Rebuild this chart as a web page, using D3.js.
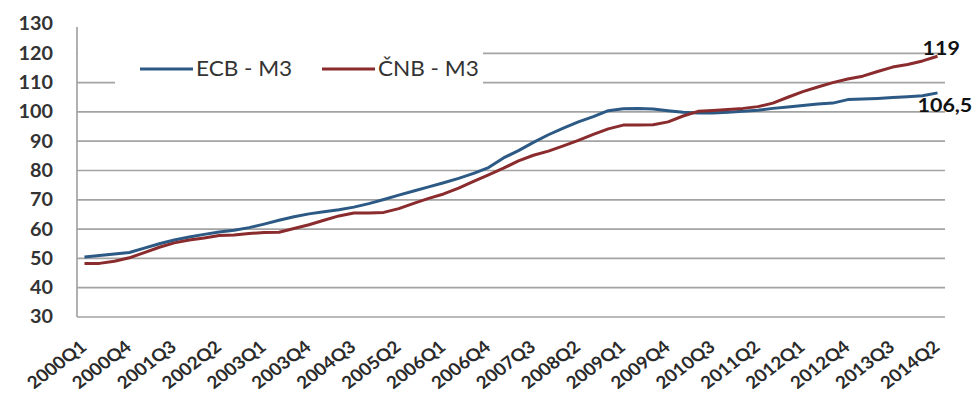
<!DOCTYPE html>
<html>
<head>
<meta charset="utf-8">
<script src="https://cdn.jsdelivr.net/npm/d3@7"></script>
<style>
  html, body { margin: 0; padding: 0; background: #fff; }
  svg { display: block; }
  text { font-family: Lato, "Open Sans", sans-serif; }
</style>
</head>
<body>
<svg id="chart" width="979" height="398"></svg>
<script>
// Quarterly index values, 2000Q1 .. 2014Q2
const quarters = [];
for (let yr = 2000; yr <= 2014; yr++) {
  for (let q = 1; q <= 4; q++) {
    if (yr === 2014 && q > 2) break;
    quarters.push(yr + "Q" + q);
  }
}

const ecbM3 = [
  50.5, 51.0, 51.5, 52.0, 53.5, 55.0, 56.3, 57.3, 58.2, 59.0,
  59.6, 60.5, 61.7, 63.0, 64.2, 65.2, 65.9, 66.6, 67.5, 68.7,
  70.1, 71.6, 73.0, 74.4, 75.8, 77.3, 79.0, 81.0, 84.3, 86.8,
  89.6, 92.2, 94.5, 96.6, 98.4, 100.4, 101.1, 101.2, 101.0, 100.4,
  99.9, 99.6, 99.6, 99.9, 100.2, 100.6, 101.2, 101.7, 102.2, 102.7,
  103.0, 104.2, 104.4, 104.6, 104.9, 105.2, 105.5, 106.5
];

const cnbM3 = [
  48.3, 48.3, 49.0, 50.2, 52.0, 53.8, 55.3, 56.3, 57.0, 57.8,
  58.0, 58.5, 58.8, 58.9, 60.2, 61.5, 63.0, 64.5, 65.5, 65.5,
  65.7, 67.0, 68.8, 70.5, 72.0, 74.0, 76.3, 78.5, 80.8, 83.3,
  85.2, 86.6, 88.4, 90.3, 92.3, 94.2, 95.5, 95.5, 95.6, 96.6,
  98.6, 100.2, 100.5, 100.8, 101.2, 101.8, 103.0, 105.0, 106.9, 108.5,
  110.0, 111.2, 112.2, 113.8, 115.3, 116.2, 117.4, 119.0
];

const yTicks = [30, 40, 50, 60, 70, 80, 90, 100, 110, 120, 130];
const seriesNames = ["ECB - M3", "ČNB - M3"];
const seriesColors = ["#2c5a85", "#8a2b2d"];
const endLabels = ["106,5", "119"];

const svg = d3.select("#chart");
const plotLeft = 77, plotRight = 945, plotTop = 24, plotBottom = 317;
const stretch = 1.1;   // horizontal text scale of this chart

const x = d3.scalePoint()
  .domain(d3.range(quarters.length))
  .range([plotLeft, plotRight])
  .padding(0.5);

const y = d3.scaleLinear().domain([30, 130]).range([plotBottom, plotTop]);

// horizontal gridlines
svg.append("g")
  .selectAll("line")
  .data(yTicks.filter(v => v > 30 && v < 130))
  .join("line")
  .attr("x1", plotLeft).attr("x2", plotRight)
  .attr("y1", d => y(d)).attr("y2", d => y(d))
  .attr("stroke", "#a3a3a3").attr("stroke-width", 1.7);

// axis lines
svg.append("line")
  .attr("x1", plotLeft).attr("x2", plotRight)
  .attr("y1", plotBottom).attr("y2", plotBottom)
  .attr("stroke", "#a3a3a3").attr("stroke-width", 1.7);
svg.append("line")
  .attr("x1", plotLeft).attr("x2", plotLeft)
  .attr("y1", y(129)).attr("y2", plotBottom)
  .attr("stroke", "#a3a3a3").attr("stroke-width", 1.7);

// y tick labels
svg.append("g")
  .selectAll("text")
  .data(yTicks)
  .join("text")
  .attr("transform", d => `translate(53,${y(d)}) scale(${stretch},1)`)
  .attr("text-anchor", "end")
  .attr("dy", "0.36em")
  .attr("font-size", 18)
  .attr("font-weight", 700)
  .attr("fill", "#333")
  .text(d => d);

// x tick labels, every third quarter
const xTickIdx = d3.range(0, quarters.length, 3);
svg.append("g")
  .selectAll("text")
  .data(xTickIdx)
  .join("text")
  .attr("transform", i => `translate(${x(i) - 1},344) scale(${stretch},1) rotate(-40)`)
  .attr("text-anchor", "end")
  .attr("dy", "0.36em")
  .attr("font-size", 17.2)
  .attr("font-weight", 700)
  .attr("fill", "#2a2a2a")
  .text(i => quarters[i]);

// legend background
svg.append("path")
  .attr("d", `M${plotLeft + 1},40 H483 V98 H115 V70 H${plotLeft + 1} Z`)
  .attr("fill", "#fff");

// series lines
const line = d3.line()
  .x((d, i) => x(i))
  .y(d => y(d))
  .curve(d3.curveLinear);

[ecbM3, cnbM3].forEach((s, k) => {
  svg.append("path")
    .datum(s)
    .attr("fill", "none")
    .attr("stroke", seriesColors[k])
    .attr("stroke-width", 3)
    .attr("stroke-linejoin", "round")
    .attr("d", line);
});

// legend
const legendX = [140, 322];
seriesNames.forEach((name, k) => {
  svg.append("line")
    .attr("x1", legendX[k]).attr("x2", legendX[k] + 53)
    .attr("y1", 69).attr("y2", 69)
    .attr("stroke", seriesColors[k]).attr("stroke-width", 3);
  svg.append("text")
    .attr("transform", `translate(${legendX[k] + 56},69) scale(${stretch},1)`)
    .attr("dy", "0.36em")
    .attr("font-size", 20.5)
    .attr("fill", "#333")
    .text(name);
});

// end-of-series value labels
const last = quarters.length - 1;
svg.append("text")
  .attr("transform", `translate(${x(last) - 15},${y(cnbM3[last]) - 8}) scale(${stretch},1)`)
  .attr("dy", "0.36em")
  .attr("font-size", 19.5)
  .attr("font-weight", 700)
  .attr("fill", "#111")
  .text(endLabels[1]);
svg.append("text")
  .attr("transform", `translate(${x(last) - 20},${y(ecbM3[last]) + 12}) scale(${stretch},1)`)
  .attr("dy", "0.36em")
  .attr("font-size", 19.5)
  .attr("font-weight", 700)
  .attr("fill", "#111")
  .text(endLabels[0]);
</script>
</body>
</html>
